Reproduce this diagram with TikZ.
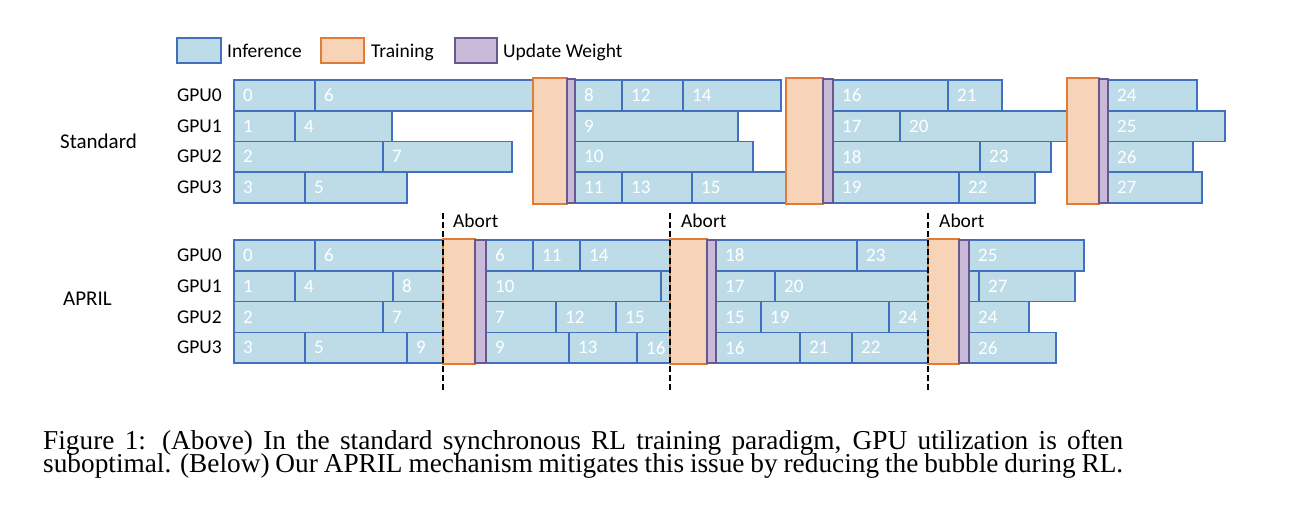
\documentclass[tikz,border=0pt]{standalone}
\usepackage{fontspec}
\setmainfont{Liberation Serif}
\setsansfont{Carlito}
\definecolor{infFill}{RGB}{190,220,231}
\definecolor{infDraw}{RGB}{65,113,190}
\definecolor{trFill}{RGB}{247,212,184}
\definecolor{trDraw}{RGB}{224,123,57}
\definecolor{upFill}{RGB}{202,186,217}
\definecolor{upDraw}{RGB}{105,88,140}
\tikzset{
  inf/.style={draw=infDraw, fill=infFill, line width=1.7pt, inner sep=0pt, outer sep=0pt},
  trn/.style={draw=trDraw, fill=trFill, line width=1.7pt, inner sep=0pt, outer sep=0pt},
  upd/.style={draw=upDraw, fill=upFill, line width=1.7pt, inner sep=0pt, outer sep=0pt},
  num/.style={text=white, inner sep=0pt, font=\sffamily\fontsize{19}{19}\selectfont},
  lab/.style={text=black, inner sep=0pt, font=\sffamily\fontsize{19.5}{19.5}\selectfont},
  biglab/.style={text=black, inner sep=0pt, font=\sffamily\fontsize{21}{21}\selectfont},
  abortline/.style={draw=black, line width=1.5pt, dash pattern=on 6pt off 3pt},
  captext/.style={text=black, inner sep=0pt, font=\rmfamily\fontsize{27.3}{27.3}\selectfont}
}
\newcommand{\ib}[6]{% name, x1, x2, ytop, height, label
  \pgfmathsetmacro{\blkw}{#3-#2}
  \node[inf, anchor=north west, minimum width=\blkw pt, minimum height=#5pt] (#1) at (#2,#4) {};
  \node[num, anchor=west] (#1t) at ([xshift=9pt]#1.west) {#6};
}
\newcommand{\tb}[6]{% style, name, x1, x2, ytop, ybot
  \pgfmathsetmacro{\blkw}{#4-#3}
  \pgfmathsetmacro{\blkh}{#6-#5}
  \node[#1, anchor=north west, minimum width=\blkw pt, minimum height=\blkh pt] (#2) at (#3,#5) {};
}
\begin{document}
\begin{tikzpicture}[x=1pt, y=-1pt]
\useasboundingbox (0,0) rectangle (1301,520);

% legend
\node[inf, anchor=north west, minimum width=44pt, minimum height=25pt] (legI) at (177,38) {};
\node[lab, anchor=base west] (legIt) at (227,57) {Inference};
\node[trn, anchor=north west, minimum width=43pt, minimum height=25pt] (legT) at (321,38) {};
\node[lab, anchor=base west] (legTt) at (371,57) {Training};
\node[upd, anchor=north west, minimum width=42pt, minimum height=25pt] (legU) at (455,38) {};
\node[lab, anchor=base west] (legUt) at (503,57) {Update Weight};

% section labels
\node[biglab, anchor=base west] (stdlab) at (60,148) {Standard};
\node[biglab, anchor=base west] (aprlab) at (63,305) {APRIL};

% GPU labels standard
\node[lab, anchor=east] (sg0) at (222,95.4) {GPU0};
\node[lab, anchor=east] (sg1) at (222,126) {GPU1};
\node[lab, anchor=east] (sg2) at (222,156.7) {GPU2};
\node[lab, anchor=east] (sg3) at (222,187.4) {GPU3};
% GPU labels APRIL
\node[lab, anchor=east] (ag0) at (222,255.4) {GPU0};
\node[lab, anchor=east] (ag1) at (222,286.2) {GPU1};
\node[lab, anchor=east] (ag2) at (222,316.9) {GPU2};
\node[lab, anchor=east] (ag3) at (222,347.7) {GPU3};

% ---------- Standard ----------
% GPU0
\ib{sa1}{234}{315}{80}{30.7}{0}
\ib{sa2}{315}{533}{80}{30.7}{6}
\ib{sa3}{575}{622}{80}{30.7}{8}
\ib{sa4}{622}{683}{80}{30.7}{12}
\ib{sa5}{683}{781}{80}{30.7}{14}
\ib{sa6}{833}{948}{80}{30.7}{16}
\ib{sa7}{948}{1002}{80}{30.7}{21}
\ib{sa8}{1108}{1197}{80}{30.7}{24}
% GPU1
\ib{sb1}{234}{295}{110.7}{30.7}{1}
\ib{sb2}{295}{392}{110.7}{30.7}{4}
\ib{sb3}{575}{738}{110.7}{30.7}{9}
\ib{sb4}{833}{900}{110.7}{30.7}{17}
\ib{sb5}{900}{1067}{110.7}{30.7}{20}
\ib{sb6}{1108}{1225}{110.7}{30.7}{25}
% GPU2
\ib{sc1}{234}{383}{141.4}{30.7}{2}
\ib{sc2}{383}{512}{141.4}{30.7}{7}
\ib{sc3}{575}{753}{141.4}{30.7}{10}
\ib{sc4}{833}{980}{141.4}{30.7}{18}
\ib{sc5}{980}{1051}{141.4}{30.7}{23}
\ib{sc6}{1108}{1193}{141.4}{30.7}{26}
% GPU3
\ib{sd1}{234}{305}{172.1}{30.7}{3}
\ib{sd2}{305}{407}{172.1}{30.7}{5}
\ib{sd3}{575}{622}{172.1}{30.7}{11}
\ib{sd4}{622}{692}{172.1}{30.7}{13}
\ib{sd5}{692}{786}{172.1}{30.7}{15}
\ib{sd6}{833}{959}{172.1}{30.7}{19}
\ib{sd7}{959}{1035}{172.1}{30.7}{22}
\ib{sd8}{1108}{1202}{172.1}{30.7}{27}
% training / update
\tb{trn}{st1}{533}{567}{78}{204}
\tb{upd}{su1}{567}{575}{79}{203}
\tb{trn}{st2}{786}{823}{78}{204}
\tb{upd}{su2}{823}{833}{79}{203}
\tb{trn}{st3}{1067}{1099}{78}{204}
\tb{upd}{su3}{1099}{1108}{79}{203}

% ---------- APRIL ----------
% GPU0
\ib{aa1}{234}{315}{240}{30.8}{0}
\ib{aa2}{315}{443}{240}{30.8}{6}
\ib{aa3}{486}{533}{240}{30.8}{6}
\ib{aa4}{533}{580}{240}{30.8}{11}
\ib{aa5}{580}{670}{240}{30.8}{14}
\ib{aa6}{716}{857}{240}{30.8}{18}
\ib{aa7}{857}{928}{240}{30.8}{23}
\ib{aa8}{969}{1084}{240}{30.8}{25}
% GPU1
\ib{ab1}{234}{295}{270.8}{30.8}{1}
\ib{ab2}{295}{393}{270.8}{30.8}{4}
\ib{ab3}{393}{443}{270.8}{30.8}{8}
\ib{ab4}{486}{661}{270.8}{30.8}{10}
\ib{ab5}{661}{670}{270.8}{30.8}{}
\ib{ab6}{716}{775}{270.8}{30.8}{17}
\ib{ab7}{775}{928}{270.8}{30.8}{20}
\ib{ab8}{969}{979}{270.8}{30.8}{}
\ib{ab9}{979}{1075}{270.8}{30.8}{27}
% GPU2
\ib{ac1}{234}{383}{301.6}{30.8}{2}
\ib{ac2}{383}{443}{301.6}{30.8}{7}
\ib{ac3}{486}{556}{301.6}{30.8}{7}
\ib{ac4}{556}{616}{301.6}{30.8}{12}
\ib{ac5}{616}{670}{301.6}{30.8}{15}
\ib{ac6}{716}{761}{301.6}{30.8}{15}
\ib{ac7}{761}{889}{301.6}{30.8}{19}
\ib{ac8}{889}{928}{301.6}{30.8}{24}
\ib{ac9}{969}{1029}{301.6}{30.8}{24}
% GPU3
\ib{ad1}{234}{305}{332.4}{30.8}{3}
\ib{ad2}{305}{407}{332.4}{30.8}{5}
\ib{ad3}{407}{443}{332.4}{30.8}{9}
\ib{ad4}{486}{569}{332.4}{30.8}{9}
\ib{ad5}{569}{637}{332.4}{30.8}{13}
\ib{ad6}{637}{670}{332.4}{30.8}{16}
\ib{ad7}{716}{800}{332.4}{30.8}{16}
\ib{ad8}{800}{852}{332.4}{30.8}{21}
\ib{ad9}{852}{928}{332.4}{30.8}{22}
\ib{ad10}{969}{1056}{332.4}{30.8}{26}
% training / update
\tb{trn}{at1}{443}{475}{239}{364}
\tb{upd}{au1}{475}{486}{240}{363}
\tb{trn}{at2}{670}{707}{239}{364}
\tb{upd}{au2}{707}{716}{240}{363}
\tb{trn}{at3}{928}{959}{239}{364}
\tb{upd}{au3}{959}{969}{240}{363}

% abort lines
\coordinate (ab1top) at (443,213);
\coordinate (ab1bot) at (443,392);
\coordinate (ab2top) at (670,213);
\coordinate (ab2bot) at (670,392);
\coordinate (ab3top) at (928,213);
\coordinate (ab3bot) at (928,392);
\draw[abortline] (ab1top) -- (ab1bot);
\draw[abortline] (ab2top) -- (ab2bot);
\draw[abortline] (ab3top) -- (ab3bot);
\node[lab, anchor=base west] (abt1) at (453,227) {Abort};
\node[lab, anchor=base west] (abt2) at (681,227) {Abort};
\node[lab, anchor=base west] (abt3) at (939,227) {Abort};

% caption (one text block, tight leading as in the reference)
\node[captext, anchor=base west] (caption) at (43,449.5) {\parbox[t]{1080pt}{\lineskiplimit=-100pt\lineskip=0pt\baselineskip=22.5pt\noindent\makebox[1080pt][s]{Figure 1: (Above) In the standard synchronous RL training paradigm, GPU utilization is often}\par\noindent\makebox[1080pt][s]{suboptimal. (Below) Our APRIL mechanism mitigates this issue by reducing the bubble during RL.}}};
\end{tikzpicture}
\end{document}
